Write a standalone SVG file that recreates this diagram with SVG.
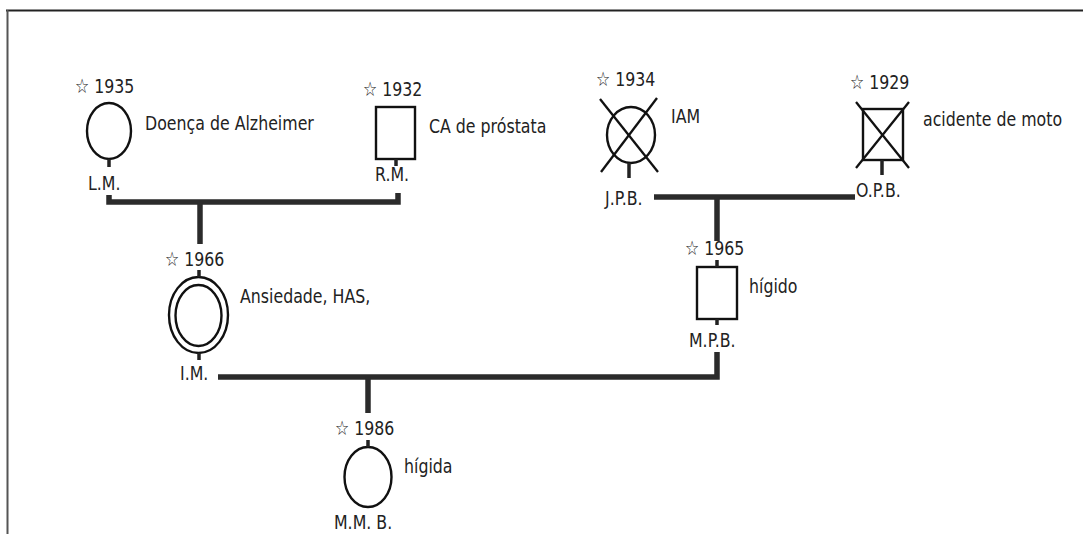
<svg xmlns="http://www.w3.org/2000/svg" width="1083" height="534" viewBox="0 0 1083 534">
<style>
.t{font-family:"DejaVu Sans","Liberation Sans",sans-serif;font-size:15.8px;fill:#222}
.sym{font-family:"DejaVu Sans","Noto Sans","Liberation Sans",sans-serif;fill:#222}
.s{fill:none;stroke:#111;stroke-width:2.4}
.x{stroke:#111;stroke-width:2.3}
.st{stroke:#222;stroke-width:3.5}
.c{fill:none;stroke:#2b2b2b;stroke-width:5.5}
</style>
<rect width="1083" height="534" fill="#fff"/>
<g id="frame">
<line x1="6" y1="10.5" x2="1083" y2="10.5" stroke="#222" stroke-width="2"/>
<line x1="7.5" y1="10" x2="7.5" y2="534" stroke="#555" stroke-width="2"/>
</g>
<g id="connectors">
<path class="c" d="M109 195 V202 H398 V193"/>
<line class="c" x1="200" y1="202" x2="200" y2="244"/>
<line class="c" x1="654" y1="197" x2="855" y2="197"/>
<line class="c" x1="717" y1="197" x2="717" y2="241"/>
<path class="c" d="M218 377 H717 V352"/>
<line class="c" x1="368" y1="377" x2="368" y2="413"/>
</g>
<g id="LM">
<ellipse class="s" cx="109" cy="131" rx="22" ry="28"/>
<line class="st" x1="109" y1="159" x2="109" y2="167"/>
<text class="t" transform="translate(75 93) scale(1 1.27)"><tspan class="sym">☆&#xFE0E;</tspan> 1935</text>
<text class="t" transform="translate(145 130) scale(1 1.27)">Doença de Alzheimer</text>
<text class="t" transform="translate(88 190) scale(1 1.27)">L.M.</text>
</g>
<g id="RM">
<rect class="s" x="376" y="107" width="39" height="52"/>
<line class="st" x1="396" y1="159" x2="396" y2="166"/>
<text class="t" transform="translate(363 96) scale(1 1.27)"><tspan class="sym">☆&#xFE0E;</tspan> 1932</text>
<text class="t" transform="translate(429 133) scale(1 1.27)">CA de próstata</text>
<text class="t" transform="translate(375 181) scale(1 1.27)">R.M.</text>
</g>
<g id="JPB">
<ellipse class="s" cx="631" cy="135" rx="24" ry="28"/>
<line class="x" x1="600" y1="99" x2="658" y2="172"/>
<line class="x" x1="657" y1="98" x2="601" y2="172"/>
<line class="st" x1="629" y1="163" x2="629" y2="178"/>
<text class="t" transform="translate(596 86) scale(1 1.27)"><tspan class="sym">☆&#xFE0E;</tspan> 1934</text>
<text class="t" transform="translate(671 123) scale(1 1.27)">IAM</text>
<text class="t" transform="translate(605 205) scale(1 1.27)">J.P.B.</text>
</g>
<g id="OPB">
<rect class="s" x="863" y="109" width="40" height="51"/>
<line class="x" x1="856" y1="102" x2="909" y2="168"/>
<line class="x" x1="909" y1="102" x2="856" y2="168"/>
<line class="st" x1="882" y1="160" x2="882" y2="175"/>
<text class="t" transform="translate(850 89) scale(1 1.27)"><tspan class="sym">☆&#xFE0E;</tspan> 1929</text>
<text class="t" transform="translate(923 126) scale(1 1.27)">acidente de moto</text>
<text class="t" transform="translate(856 197) scale(1 1.27)">O.P.B.</text>
</g>
<g id="IM">
<ellipse class="s" cx="198.5" cy="315" rx="29.5" ry="38"/>
<ellipse class="s" cx="198.5" cy="315.5" rx="23" ry="30.5"/>
<line class="st" x1="199" y1="270" x2="199" y2="277"/>
<line class="st" x1="199" y1="353" x2="199" y2="360"/>
<text class="t" transform="translate(165 266) scale(1 1.27)"><tspan class="sym">☆&#xFE0E;</tspan> 1966</text>
<text class="t" transform="translate(240 303) scale(1 1.27)">Ansiedade, HAS,</text>
<text class="t" transform="translate(180 380) scale(1 1.27)">I.M.</text>
</g>
<g id="MPB">
<rect class="s" x="697" y="267" width="40" height="52"/>
<line class="st" x1="717" y1="260" x2="717" y2="267"/>
<line class="st" x1="717" y1="319" x2="717" y2="325"/>
<text class="t" transform="translate(685 255) scale(1 1.27)"><tspan class="sym">☆&#xFE0E;</tspan> 1965</text>
<text class="t" transform="translate(749 293) scale(1 1.27)">hígido</text>
<text class="t" transform="translate(689 347) scale(1 1.27)">M.P.B.</text>
</g>
<g id="MMB">
<ellipse class="s" cx="368" cy="477" rx="23.5" ry="30"/>
<line class="st" x1="368" y1="440" x2="368" y2="447"/>
<text class="t" transform="translate(335 435) scale(1 1.27)"><tspan class="sym">☆&#xFE0E;</tspan> 1986</text>
<text class="t" transform="translate(404 473) scale(1 1.27)">hígida</text>
<text class="t" transform="translate(334 529) scale(1 1.27)">M.M. B.</text>
</g>
</svg>
